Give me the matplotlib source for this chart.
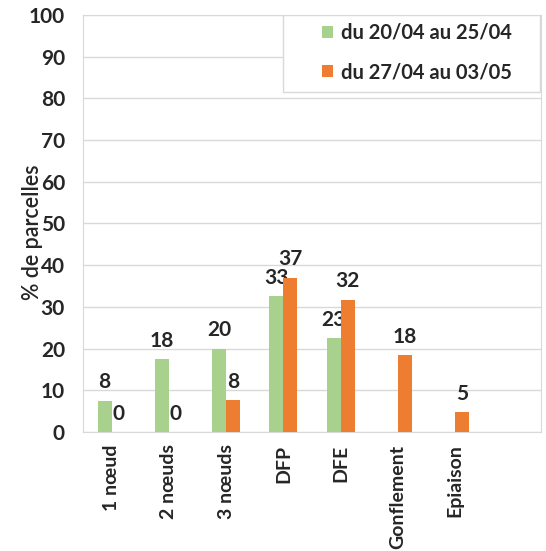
import numpy as np
import matplotlib.pyplot as plt
from matplotlib.patches import Rectangle

# Stades observés
categories = ['1 nœud', '2 nœuds', '3 nœuds', 'DFP', 'DFE', 'Gonflement', 'Epiaison']
period1 = [7.5, 17.5, 20, 32.5, 22.5, np.nan, np.nan]   # du 20/04 au 25/04
period2 = [0, 0, 7.7, 37, 31.7, 18.4, 4.8]              # du 27/04 au 03/05
labels = ['du 20/04 au 25/04', 'du 27/04 au 03/05']
colors = ['#a9d18e', '#ed7d31']
txt = '#262626'

plt.rcParams['font.family'] = ['Lato', 'DejaVu Sans']

fig = plt.figure(figsize=(5.46, 5.51), dpi=100)
ax = fig.add_axes([0.152, 0.216, 0.839, 0.757])

x = np.arange(len(categories))
w = 0.245
for series, off, col, lab in [(period1, -w / 2, colors[0], labels[0]),
                              (period2, w / 2, colors[1], labels[1])]:
    ax.bar(x + off, series, width=w, color=col, label=lab, zorder=3)
    for xi, v in zip(x + off, series):
        if np.isnan(v):
            continue
        ax.annotate(str(int(v + 0.5)), (xi, v), xytext=(0, 6), textcoords='offset points',
                    ha='center', va='bottom', fontsize=15, fontweight='bold', color=txt)

ax.set_xlim(-0.5, len(categories) + 0.5)
ax.set_ylim(0, 100)
ax.set_yticks(range(0, 101, 10))
ax.set_xticks(x)
ax.set_xticklabels(categories, rotation=90, fontsize=14, fontweight='bold', color=txt)
ax.tick_params(axis='y', labelsize=15, length=0, pad=13, labelcolor=txt)
ax.tick_params(axis='x', length=0, pad=9)
for lbl in ax.get_yticklabels():
    lbl.set_fontweight('bold')
ax.set_ylabel('% de parcelles', fontsize=15.5, fontweight='semibold', color=txt)
ax.yaxis.set_label_coords(-0.088, 0.48)
ax.yaxis.grid(True, color='#d9d9d9', linewidth=1, zorder=0)
for s in ax.spines.values():
    s.set_color('#d9d9d9')

# légende : cadre dessiné à part
ax.add_patch(Rectangle((0.437, 0.815), 0.561, 0.185, transform=ax.transAxes,
                       facecolor='white', edgecolor='#d9d9d9', linewidth=1, zorder=4))
leg = ax.legend(loc='upper left', bbox_to_anchor=(0.505, 1.0), prop={'size': 14.5, 'weight': 'bold'},
                frameon=False, labelspacing=0.95, handlelength=0.55, handleheight=0.55,
                handletextpad=0.35, borderaxespad=0)
leg.set_zorder(5)
for t in leg.get_texts():
    t.set_color(txt)

fig.savefig('out.png', dpi=100)
